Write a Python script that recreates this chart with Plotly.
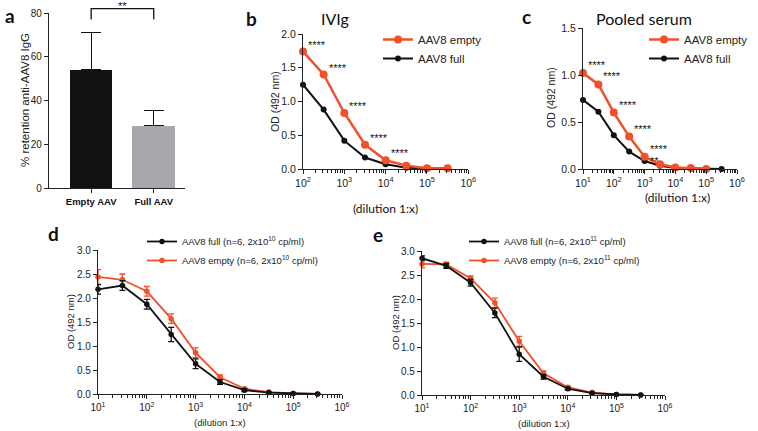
import numpy as np
import plotly.graph_objects as go

W, H = 758, 431
RED = "#F0502A"
BLK = "#111111"
GRAY = "#A8A8AC"
AX = "#222222"

# ---------------- data ----------------
a_cats = ["Empty AAV", "Full AAV"]
a_vals = [54.0, 28.5]
a_err = [17.0, 7.0]
a_sig = "**"

b_x = [100, 316, 1000, 3162, 10000, 31623, 100000, 316228]
b_empty = [1.74, 1.40, 0.83, 0.36, 0.13, 0.05, 0.01, 0.01]
b_full = [1.25, 0.88, 0.42, 0.17, 0.07, 0.02, 0.01, 0.01]
b_stars = ["****", "****", "****", "****", "****"]

c_x = [10, 31.6, 100, 316, 1000, 3162, 10000, 31623, 100000, 316228]
c_empty = [1.02, 0.90, 0.60, 0.345, 0.13, 0.05, 0.015, 0.01, 0.0, None]
c_full = [0.735, 0.61, 0.36, 0.185, 0.085, 0.035, 0.01, 0.005, 0.0, 0.0]
c_stars = ["****", "****", "****", "****", "****", "**"]

d_x = [10, 31.6, 100, 316, 1000, 3162, 10000, 31623, 100000, 316228]
d_full = [2.18, 2.26, 1.87, 1.24, 0.63, 0.25, 0.08, 0.03, 0.01, 0.0]
d_full_err = [0.10, 0.10, 0.10, 0.15, 0.10, 0.05, 0.03, 0.01, 0.005, 0.0]
d_empty = [2.44, 2.38, 2.14, 1.57, 0.86, 0.35, 0.11, 0.04, 0.01, 0.0]
d_empty_err = [0.15, 0.12, 0.10, 0.10, 0.10, 0.05, 0.03, 0.01, 0.005, 0.0]

e_x = [10, 31.6, 100, 316, 1000, 3162, 10000, 31623, 100000, 316228]
e_full = [2.85, 2.69, 2.34, 1.71, 0.85, 0.38, 0.13, 0.04, 0.01, 0.0]
e_full_err = [0.05, 0.05, 0.07, 0.10, 0.15, 0.05, 0.03, 0.01, 0.005, 0.0]
e_empty = [2.73, 2.72, 2.43, 1.92, 1.12, 0.45, 0.16, 0.05, 0.01, 0.0]
e_empty_err = [0.08, 0.05, 0.05, 0.10, 0.10, 0.05, 0.03, 0.01, 0.005, 0.0]

log_tickvals = [10, 100, 1000, 10000, 100000, 1000000]
log_ticktext = ["10<sup>1</sup>", "10<sup>2</sup>", "10<sup>3</sup>",
                "10<sup>4</sup>", "10<sup>5</sup>", "10<sup>6</sup>"]
minor_vals = [k * 10 ** p for p in range(1, 6) for k in range(2, 10)]


def px(x):
    return x / W


def py(y):
    return 1 - y / H


fig = go.Figure()

# ---------------- panel a ----------------
a_xr = [-0.674, 1.50]
fig.add_trace(go.Bar(
    x=[0, 1], y=a_vals, width=0.68, marker=dict(color=[BLK, GRAY], line=dict(width=0)),
    error_y=dict(type="data", array=a_err, arrayminus=[0, 0], symmetric=False,
                 color=BLK, thickness=1.3, width=10),
    xaxis="x", yaxis="y", showlegend=False))

# ---------------- panel b ----------------
fig.add_trace(go.Scatter(x=b_x, y=b_full, mode="lines+markers", name="AAV8 full",
                         line=dict(color=BLK, width=2), marker=dict(size=6, color=BLK),
                         xaxis="x2", yaxis="y2", legend="legend", legendrank=2, cliponaxis=False))
fig.add_trace(go.Scatter(x=b_x, y=b_empty, mode="lines+markers", name="AAV8 empty",
                         line=dict(color=RED, width=2.5), marker=dict(size=8, color=RED),
                         xaxis="x2", yaxis="y2", legend="legend", legendrank=1, cliponaxis=False))

# ---------------- panel c ----------------
fig.add_trace(go.Scatter(x=c_x, y=c_full, mode="lines+markers", name="AAV8 full",
                         line=dict(color=BLK, width=2), marker=dict(size=6, color=BLK),
                         xaxis="x3", yaxis="y3", legend="legend2", legendrank=2, cliponaxis=False))
fig.add_trace(go.Scatter(x=c_x, y=c_empty, mode="lines+markers", name="AAV8 empty",
                         line=dict(color=RED, width=2.5), marker=dict(size=8, color=RED),
                         xaxis="x3", yaxis="y3", legend="legend2", legendrank=1, cliponaxis=False))

# ---------------- panel d ----------------
fig.add_trace(go.Scatter(x=d_x, y=d_empty, mode="lines+markers",
                         name="AAV8 empty (n=6, 2x10<sup>10</sup> cp/ml)",
                         line=dict(color=RED, width=1.8), marker=dict(size=5.5, color=RED),
                         error_y=dict(type="data", array=d_empty_err, color=RED, thickness=1.3, width=3),
                         xaxis="x4", yaxis="y4", legend="legend3", legendrank=2, cliponaxis=False))
fig.add_trace(go.Scatter(x=d_x, y=d_full, mode="lines+markers",
                         name="AAV8 full (n=6, 2x10<sup>10</sup> cp/ml)",
                         line=dict(color=BLK, width=1.8), marker=dict(size=5.5, color=BLK),
                         error_y=dict(type="data", array=d_full_err, color=BLK, thickness=1.3, width=3),
                         xaxis="x4", yaxis="y4", legend="legend3", legendrank=1, cliponaxis=False))

# ---------------- panel e ----------------
fig.add_trace(go.Scatter(x=e_x, y=e_empty, mode="lines+markers",
                         name="AAV8 empty (n=6, 2x10<sup>11</sup> cp/ml)",
                         line=dict(color=RED, width=1.8), marker=dict(size=5.5, color=RED),
                         error_y=dict(type="data", array=e_empty_err, color=RED, thickness=1.3, width=3),
                         xaxis="x5", yaxis="y5", legend="legend4", legendrank=2, cliponaxis=False))
fig.add_trace(go.Scatter(x=e_x, y=e_full, mode="lines+markers",
                         name="AAV8 full (n=6, 2x10<sup>11</sup> cp/ml)",
                         line=dict(color=BLK, width=1.8), marker=dict(size=5.5, color=BLK),
                         error_y=dict(type="data", array=e_full_err, color=BLK, thickness=1.3, width=3),
                         xaxis="x5", yaxis="y5", legend="legend4", legendrank=1, cliponaxis=False))


def lin_axis(domain, rng, dtick, fsize=10):
    return dict(domain=domain, range=rng, dtick=dtick, tick0=0, showgrid=False, zeroline=False,
                showline=True, linecolor=AX, linewidth=1.3, ticks="outside", ticklen=4,
                tickwidth=1.2, tickcolor=AX, tickformat=".1f", automargin=False,
                tickfont=dict(family="Liberation Sans, Arial", size=fsize, color="#222"))


def log_axis(domain, rng, anchor, fsize=10):
    return dict(domain=domain, type="log", range=rng, tickmode="array", tickvals=log_tickvals,
                ticktext=log_ticktext, showgrid=False, zeroline=False, showline=True,
                linecolor=AX, linewidth=1.3, ticks="outside", ticklen=4, tickwidth=1.2,
                tickcolor=AX, anchor=anchor, automargin=False,
                minor=dict(tickmode="array", tickvals=minor_vals, ticks="outside", ticklen=2.5,
                           tickwidth=0.8, tickcolor=AX, showgrid=False),
                tickfont=dict(family="Liberation Sans, Arial", size=fsize, color="#222"))


ya = lin_axis([py(188), py(13)], [0, 80], 20, 10)
ya["tickformat"] = "d"
ya["anchor"] = "x"

LEG = dict(bgcolor="rgba(0,0,0,0)", borderwidth=0, itemwidth=30, xanchor="left", yanchor="top",
           font=dict(family="Liberation Sans, Arial", size=11.5, color="#222"), traceorder="normal")
LEG_S = dict(LEG, font=dict(family="Liberation Sans, Arial", size=9.5, color="#222"))

fig.update_layout(
    width=W, height=H, margin=dict(l=0, r=0, t=0, b=0, pad=0, autoexpand=False),
    paper_bgcolor="white", plot_bgcolor="white", bargap=0,
    xaxis=dict(domain=[px(49), px(185)], range=a_xr, tickmode="array", tickvals=[0, 1],
               ticktext=["<b>" + c + "</b>" for c in a_cats], showgrid=False, zeroline=False,
               showline=True, linecolor=AX, linewidth=1.3, ticks="outside", ticklen=4,
               tickcolor=AX, anchor="y", automargin=False,
               tickfont=dict(family="Liberation Sans, Arial", size=9.5, color="#111")),
    yaxis=ya,
    xaxis2=log_axis([px(303), px(468.3)], [2, 6], "y2", 10.5),
    yaxis2=dict(lin_axis([py(169), py(34)], [0, 2.0], 0.5, 10.5), anchor="x2"),
    xaxis3=log_axis([px(583), px(737)], [1, 6], "y3", 10.5),
    yaxis3=dict(lin_axis([py(169), py(28)], [0, 1.5], 0.5, 10.5), anchor="x3"),
    xaxis4=log_axis([px(98), px(342)], [1, 6], "y4", 10),
    yaxis4=dict(lin_axis([py(394), py(250)], [0, 3.0], 0.5, 10), anchor="x4"),
    xaxis5=log_axis([px(422), px(665)], [1, 6], "y5", 10),
    yaxis5=dict(lin_axis([py(395), py(251)], [0, 3.0], 0.5, 10), anchor="x5"),
    legend=dict(LEG, x=px(378), y=py(25)),
    legend2=dict(LEG, x=px(644), y=py(25)),
    legend3=dict(LEG_S, x=px(142), y=py(227)),
    legend4=dict(LEG_S, x=px(464), y=py(227)),
)


# significance bracket in panel a (domain coordinates derived from axis ranges)
def xdom(v, r):
    return (v - r[0]) / (r[1] - r[0])


bx0, bx1 = xdom(0, a_xr), xdom(1, a_xr)
by_top, by_low = 82 / 80, 77 / 80
fig.add_shape(type="path", xref="x domain", yref="y domain",
              path=f"M {bx0} {by_low} L {bx0} {by_top} L {bx1} {by_top} L {bx1} {by_low}",
              line=dict(color=BLK, width=1.3))
fig.add_annotation(xref="x domain", yref="y domain", x=(bx0 + bx1) / 2, y=by_top, text=a_sig,
                   showarrow=False, yanchor="middle", yshift=3,
                   font=dict(family="Liberation Sans, Arial", size=11, color=BLK))

STAR = dict(family="Liberation Sans, Arial", size=11, color=BLK)
# stars panel b
for i, s in enumerate(b_stars):
    fig.add_annotation(xref="x2", yref="y2", x=np.log10(b_x[i]), y=b_empty[i], text=s,
                       showarrow=False, xanchor="left", yanchor="middle", xshift=3, yshift=7,
                       font=STAR)
# stars panel c
for i, s in enumerate(c_stars):
    xs, ys = (3, 8) if s == "****" else (-12, 3)
    fig.add_annotation(xref="x3", yref="y3", x=np.log10(c_x[i]), y=c_empty[i], text=s,
                       showarrow=False, xanchor="left", yanchor="middle", xshift=xs, yshift=ys,
                       font=STAR)

TXT = dict(family="Liberation Sans, Arial", color="#222")
CAL = dict(family="Lato", color="#111")


def ann(x, y, text, font, angle=0, **kw):
    fig.add_annotation(xref="paper", yref="paper", x=px(x), y=py(y), text=text, showarrow=False,
                       textangle=angle, xanchor="center", yanchor="middle", font=font, **kw)


# panel letters
ann(10, 15, "<b>a</b>", dict(CAL, size=19))
ann(251, 18, "<b>b</b>", dict(CAL, size=19))
ann(526, 17, "<b>c</b>", dict(CAL, size=19))
ann(53, 233, "<b>d</b>", dict(CAL, size=19))
ann(378, 235, "<b>e</b>", dict(CAL, size=19))

# titles
ann(335, 19, "IVIg", dict(CAL, size=16))
ann(644, 19, "Pooled serum", dict(CAL, size=16))

# axis titles
ann(25, 100, "% retention anti-AAV8 IgG", dict(TXT, size=11.5), angle=-90)
ann(275, 102, "OD (492 nm)", dict(TXT, size=10.5), angle=-90)
ann(551, 98, "OD (492 nm)", dict(TXT, size=10.5), angle=-90)
ann(70, 322, "OD (492 nm)", dict(TXT, size=9.5), angle=-90)
ann(395, 323, "OD (492 nm)", dict(TXT, size=9.5), angle=-90)
ann(385, 208, "(dilution 1:x)", dict(CAL, size=12))
ann(677, 197, "(dilution 1:x)", dict(CAL, size=12))
ann(220, 422, "(dilution 1:x)", dict(TXT, size=9.5))
ann(544, 423, "(dilution 1:x)", dict(TXT, size=9.5))

# the page's default body margin would offset the figure inside the window
fig.write_html("out.html", config={"displayModeBar": False},
               post_script="document.body.style.margin='0px';")
